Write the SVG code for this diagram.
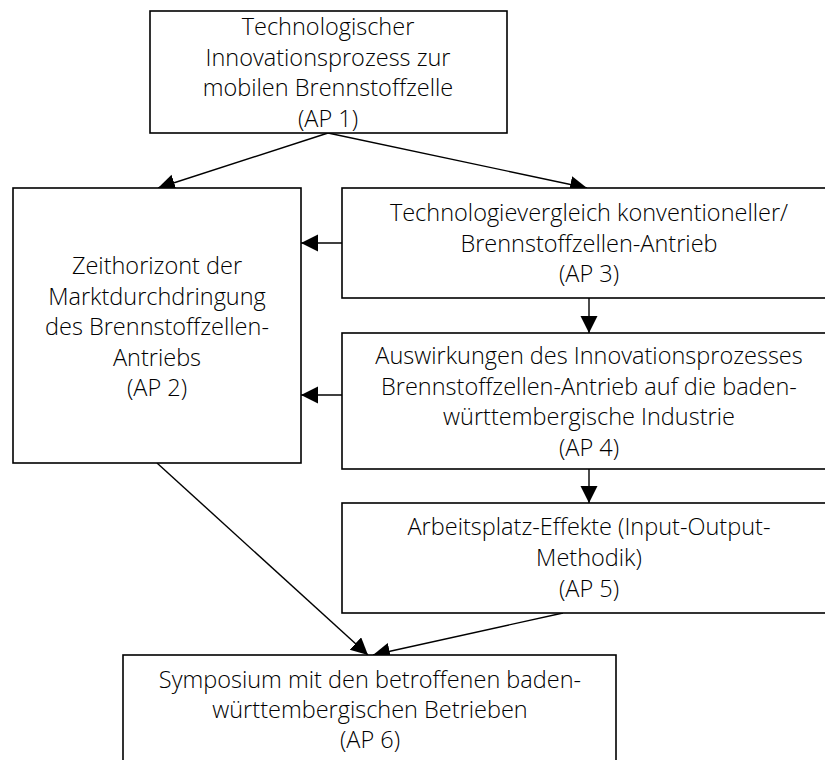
<svg xmlns="http://www.w3.org/2000/svg" width="825" height="760" viewBox="0 0 825 760">
  <style>
    .box { fill: #ffffff; stroke: #000000; stroke-width: 1.6; }
    .lbl { font-family: "Open Sans", "Liberation Sans", sans-serif; font-weight: 300; font-size: 23.5px; fill: #000000; text-anchor: middle; }
    .edge { fill: none; stroke: #000000; stroke-width: 1.4; marker-end: url(#head); }
  </style>
  <defs>
    <marker id="head" markerUnits="userSpaceOnUse" markerWidth="18" markerHeight="18" refX="17" refY="8.5" orient="auto">
      <path d="M0,0 L17,8.5 L0,17 z" fill="#000000"/>
    </marker>
  </defs>
  <rect width="825" height="760" fill="#ffffff"/>

  <g id="connectors">
    <path class="edge" d="M328,133 L158,188"/>
    <path class="edge" d="M328,133 L587,188"/>
    <path class="edge" d="M342,243 L301,243"/>
    <path class="edge" d="M342,395 L301,395"/>
    <path class="edge" d="M589,298 L589,333"/>
    <path class="edge" d="M589,469 L589,503"/>
    <path class="edge" d="M157,463 L368,655"/>
    <path class="edge" d="M563,613 L373,655"/>
  </g>

  <g id="ap1">
    <rect class="box" x="150" y="11" width="357" height="122"/>
    <text class="lbl" x="328" y="35">Technologischer</text>
    <text class="lbl" x="328" y="65.5">Innovationsprozess zur</text>
    <text class="lbl" x="328" y="96">mobilen Brennstoffzelle</text>
    <text class="lbl" x="328" y="126.5">(AP 1)</text>
  </g>

  <g id="ap2">
    <rect class="box" x="13" y="188" width="288" height="275"/>
    <text class="lbl" x="157" y="274">Zeithorizont der</text>
    <text class="lbl" x="157" y="304.5">Marktdurchdringung</text>
    <text class="lbl" x="157" y="335">des Brennstoffzellen-</text>
    <text class="lbl" x="157" y="365.5">Antriebs</text>
    <text class="lbl" x="157" y="396">(AP 2)</text>
  </g>

  <g id="ap3">
    <rect class="box" x="342" y="188" width="494" height="110"/>
    <text class="lbl" x="589" y="221">Technologievergleich konventioneller/</text>
    <text class="lbl" x="589" y="251.5">Brennstoffzellen-Antrieb</text>
    <text class="lbl" x="589" y="282">(AP 3)</text>
  </g>

  <g id="ap4">
    <rect class="box" x="342" y="333" width="494" height="136"/>
    <text class="lbl" x="589" y="364">Auswirkungen des Innovationsprozesses</text>
    <text class="lbl" x="589" y="394.5">Brennstoffzellen-Antrieb auf die baden-</text>
    <text class="lbl" x="589" y="425">württembergische Industrie</text>
    <text class="lbl" x="589" y="455.5">(AP 4)</text>
  </g>

  <g id="ap5">
    <rect class="box" x="342" y="503" width="494" height="110"/>
    <text class="lbl" x="589" y="535">Arbeitsplatz-Effekte (Input-Output-</text>
    <text class="lbl" x="589" y="566">Methodik)</text>
    <text class="lbl" x="589" y="596.5">(AP 5)</text>
  </g>

  <g id="ap6">
    <rect class="box" x="123" y="655" width="493" height="120"/>
    <text class="lbl" x="370" y="688">Symposium mit den betroffenen baden-</text>
    <text class="lbl" x="370" y="718">württembergischen Betrieben</text>
    <text class="lbl" x="370" y="748">(AP 6)</text>
  </g>
</svg>
